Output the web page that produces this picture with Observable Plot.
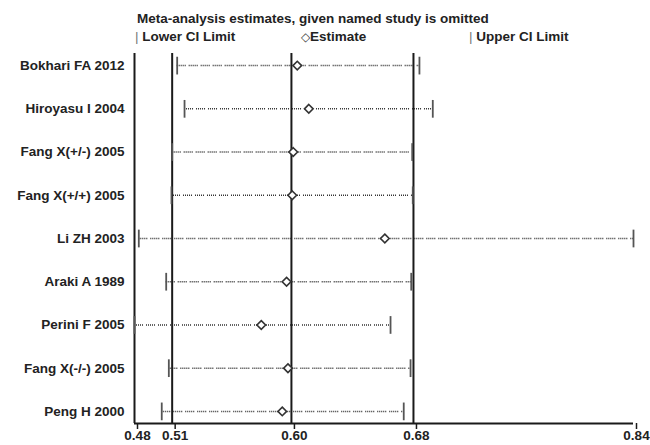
<!DOCTYPE html>
<html>
<head>
<meta charset="utf-8">
<script src="https://cdn.jsdelivr.net/npm/d3@7"></script>
<script src="https://cdn.jsdelivr.net/npm/@observablehq/plot@0.6"></script>
<style>
  body { margin: 0; background: #fff; font-family: "Liberation Sans", Arial, sans-serif; }
  #wrap { width: 650px; position: relative; }
  #head { position: relative; height: 42px; color: #222; font-size: 13.5px; line-height: 13.5px; font-weight: bold; }
  #head div { position: absolute; white-space: nowrap; }
  .bar { color: #777; font-weight: normal; }
  svg { display: block; }
</style>
</head>
<body>
<div id="wrap">
  <div id="head">
    <div style="left:137px; top:12px;">Meta-analysis estimates, given named study is omitted</div>
    <div style="left:135px; top:30px;"><span class="bar">|</span> Lower CI Limit</div>
    <div style="left:301px; top:30px;"><span style="font-size:12px; font-weight:normal; color:#444;">◇</span>Estimate</div>
    <div style="left:469px; top:30px;"><span class="bar">|</span> Upper CI Limit</div>
  </div>
  <div id="chart"></div>
</div>
<script>
const studies = ["Bokhari FA 2012", "Hiroyasu I 2004", "Fang X(+/-) 2005", "Fang X(+/+) 2005",
  "Li ZH 2003", "Araki A 1989", "Perini F 2005", "Fang X(-/-) 2005", "Peng H 2000"];
const lower    = [0.5141, 0.5194, 0.5105, 0.5100, 0.4865, 0.5062, 0.4834, 0.5081, 0.5030];
const estimate = [0.6005, 0.6088, 0.5976, 0.5969, 0.6635, 0.5928, 0.5746, 0.5938, 0.5897];
const upper    = [0.6884, 0.6980, 0.6832, 0.6836, 0.8424, 0.6825, 0.6676, 0.6820, 0.6771];
// overall (no study omitted): lower CI, estimate, upper CI
const overall = [0.5105, 0.5963, 0.6841];
const xTickValues = [0.4834, 0.5105, 0.5963, 0.6841, 0.8424];
const xTickLabels = ["0.48", "0.51", "0.60", "0.68", "0.84"];

const rows = studies.map((s, i) => ({i, study: s, lower: lower[i], estimate: estimate[i], upper: upper[i]}));
const yPad = 0.28;
const yBottom = studies.length - 1 + yPad;

const vbar = {
  draw(context, size) {
    const h = Math.sqrt(size);
    context.moveTo(0, -h);
    context.lineTo(0, h);
  }
};

const chart = Plot.plot({
  width: 650,
  height: 403,
  marginTop: 11,
  marginBottom: 22,
  marginLeft: 134,
  marginRight: 17,
  style: {fontFamily: "'Liberation Sans', Arial, sans-serif", fontSize: "13.5px", fontWeight: "bold", color: "#222", background: "#fff"},
  x: {domain: [xTickValues[0], xTickValues[xTickValues.length - 1]]},
  y: {domain: [-yPad, yBottom], reverse: true},
  marks: [
    Plot.ruleY(rows, {y: "i", x1: "lower", x2: "upper", stroke: "#333", strokeWidth: 1.5,
      strokeDasharray: "1,1,1,1,1,1,1,1,1,3"}),
    Plot.ruleX(overall, {stroke: "#1a1a1a", strokeWidth: 2}),
    Plot.ruleX([xTickValues[0]], {stroke: "#1a1a1a", strokeWidth: 2}),
    Plot.ruleY([yBottom], {stroke: "#1a1a1a", strokeWidth: 2}),
    Plot.dot(rows, {x: "lower", y: "i", symbol: vbar, r: 5, stroke: "#555", strokeWidth: 1.8}),
    Plot.dot(rows, {x: "upper", y: "i", symbol: vbar, r: 5, stroke: "#555", strokeWidth: 1.8}),
    Plot.dot(rows, {x: "estimate", y: "i", symbol: "diamond2", r: 3.9, fill: "#fff", stroke: "#333", strokeWidth: 1.6}),
    Plot.axisX({ticks: xTickValues, tickFormat: d => xTickLabels[xTickValues.indexOf(d)],
      tickSize: 6, tickPadding: 1, strokeWidth: 1.5, stroke: "#1a1a1a", fill: "#222", label: null, dx: 3}),
    Plot.axisY({ticks: studies.map((s, i) => i), tickFormat: i => studies[i],
      tickSize: 0, tickPadding: 10, fill: "#222", label: null})
  ]
});
document.getElementById("chart").appendChild(chart);
</script>
</body>
</html>
